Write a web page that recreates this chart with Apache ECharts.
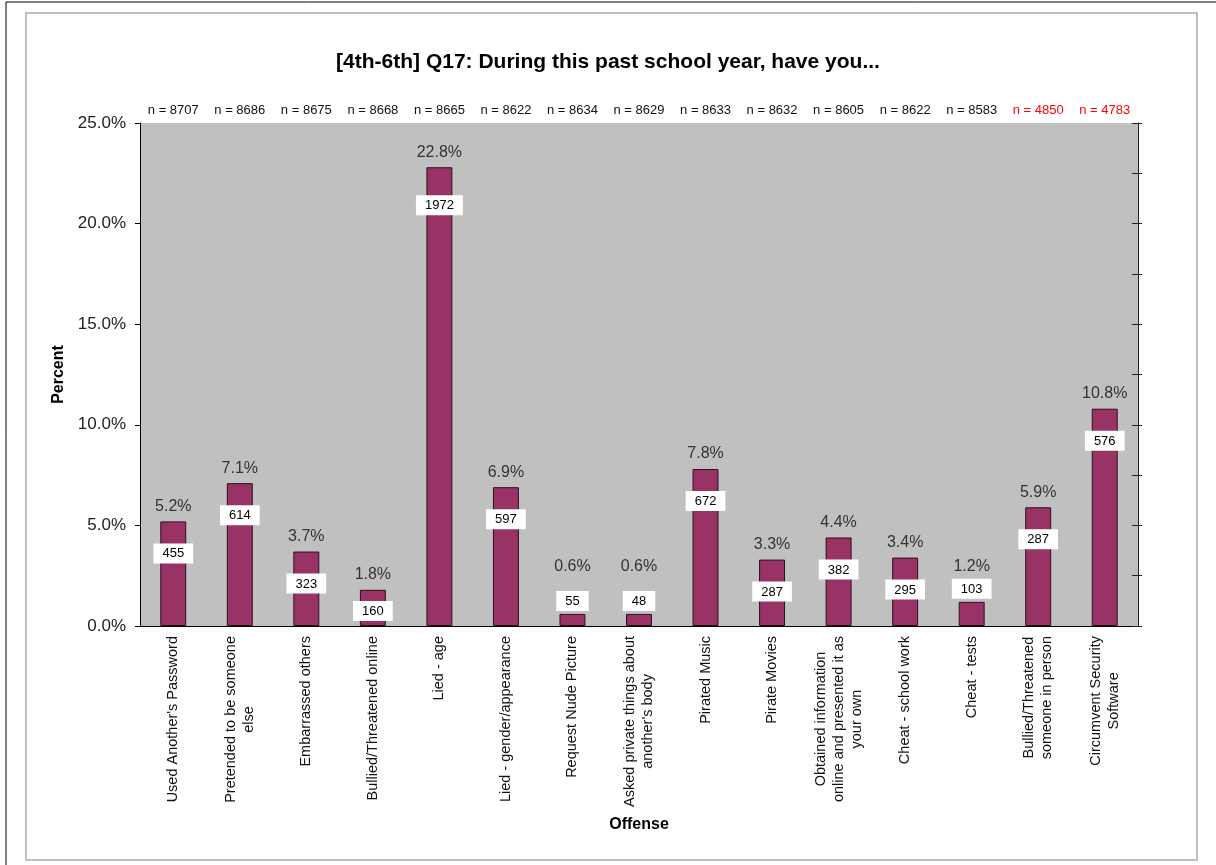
<!DOCTYPE html>
<html>
<head>
<meta charset="utf-8">
<script src="https://cdn.jsdelivr.net/npm/echarts@6/dist/echarts.min.js"></script>
<style>
  html, body { margin: 0; padding: 0; background: #fff; }
  #main { width: 1216px; height: 865px; }
</style>
</head>
<body>
<div id="main"></div>
<script>
// offenses, as printed under the bars
var categories = [
  "Used Another's Password",
  'Pretended to be someone\nelse',
  'Embarrassed others',
  'Bullied/Threatened online',
  'Lied - age',
  'Lied - gender/appearance',
  'Request Nude Picture',
  "Asked private things about\nanother's body",
  'Pirated Music',
  'Pirate Movies',
  'Obtained information\nonline and presented it as\nyour own',
  'Cheat - school work',
  'Cheat - tests',
  'Bullied/Threatened\nsomeone in person',
  'Circumvent Security\nSoftware'
]
var percents = [5.2, 7.1, 3.7, 1.8, 22.8, 6.9, 0.6, 0.6, 7.8, 3.3, 4.4, 3.4, 1.2, 5.9, 10.8]
var counts = [455, 614, 323, 160, 1972, 597, 55, 48, 672, 287, 382, 295, 103, 287, 576]
var sampleSizes = [8707, 8686, 8675, 8668, 8665, 8622, 8634, 8629, 8633, 8632, 8605, 8622, 8583, 4850, 4783]
var redSamples = [13, 14]   // the two smaller samples are shown in red
var yTicks = [0, 5, 10, 15, 20, 25]

var font = 'Arial, "Liberation Sans", sans-serif'
var gridTop = 123, gridBottom = 239
var pxPerUnit = (865 - gridTop - gridBottom) / yTicks[yTicks.length - 1]

var myChart = echarts.init(document.getElementById('main'))

// tiny bars: count box sits on top, so the % label goes above it
var pctData = percents.map(function (v) {
  var h = v * pxPerUnit
  return {
    value: v,
    label: { distance: h < 30 ? Math.max(8, 51 - h) : 7 }
  }
})

var countData = percents.map(function (v, i) {
  var h = v * pxPerUnit
  var lab
  if (h < 30) lab = { position: 'top', distance: 3 }
  else if (h < 50) lab = { position: 'insideTop', distance: Math.max(2, h - 25) }
  else lab = { position: 'insideTop', distance: h > 300 ? 28 : 22 }
  lab.formatter = String(counts[i])
  return { value: v, label: lab }
})

var nLabels = sampleSizes.map(function (n, i) {
  return {
    value: 'n = ' + n,
    textStyle: { color: redSamples.indexOf(i) >= 0 ? '#ff0000' : '#111' }
  }
})

myChart.setOption({
  animation: false,
  backgroundColor: '#fff',
  textStyle: { fontFamily: font },
  title: {
    text: '[4th-6th] Q17: During this past school year, have you...',
    left: 'center',
    top: 47,
    textStyle: { fontSize: 21, fontWeight: 'bold', color: '#000', fontFamily: font }
  },
  graphic: [
    { type: 'line', shape: { x1: 6, y1: 2, x2: 1216, y2: 2 }, style: { stroke: '#000', lineWidth: 1 } },
    { type: 'line', shape: { x1: 6, y1: 2, x2: 6, y2: 865 }, style: { stroke: '#000', lineWidth: 1 } },
    { type: 'rect', shape: { x: 26, y: 13, width: 1171, height: 847 }, style: { fill: 'none', stroke: '#c0c0c0', lineWidth: 2 } }
  ],
  grid: {
    left: 140, right: 78, top: gridTop, bottom: gridBottom,
    show: true, backgroundColor: '#c0c0c0', borderWidth: 0
  },
  xAxis: [{
    type: 'category',
    data: categories,
    name: 'Offense',
    nameLocation: 'middle',
    nameGap: 191,
    nameTextStyle: { fontSize: 16, fontWeight: 'bold', color: '#000' },
    axisLine: { lineStyle: { color: '#000', width: 1 } },
    axisTick: { inside: true, length: 4, lineStyle: { color: '#000' } },
    axisLabel: {
      interval: 0, rotate: 90, margin: 10,
      fontSize: 14.5, color: '#111', lineHeight: 18,
      formatter: function (v) {
        return v.split('\n').map(function (l) { return '{c|' + l + '}' }).join('\n')
      },
      rich: { c: { align: 'center', fontSize: 14.5, lineHeight: 18, color: '#111' } }
    }
  }, {
    type: 'category',
    position: 'top',
    data: nLabels,
    axisLine: { show: false },
    axisTick: { show: false },
    axisLabel: { interval: 0, margin: 6, fontSize: 13, color: '#111' }
  }],
  yAxis: [{
    type: 'value',
    min: 0, max: 25, interval: 5,
    name: 'Percent',
    nameLocation: 'middle',
    nameGap: 68,
    nameTextStyle: { fontSize: 16, fontWeight: 'bold', color: '#000' },
    axisLine: { show: true, lineStyle: { color: '#000' } },
    axisTick: { show: true, length: 5, lineStyle: { color: '#000' } },
    splitLine: { show: false },
    axisLabel: {
      margin: 14, fontSize: 17, color: '#222',
      formatter: function (v) { return v.toFixed(1) + '%' }
    }
  }, {
    type: 'value',
    position: 'right',
    min: 0, max: 25, interval: 2.5,
    axisLine: { show: true, lineStyle: { color: '#222' } },
    axisTick: { show: true, length: 4, lineStyle: { color: '#222' } },
    axisLabel: { show: false },
    splitLine: { show: false }
  }, {
    type: 'value',
    position: 'right',
    min: 0, max: 25, interval: 2.5,
    axisLine: { show: false },
    axisTick: { show: true, inside: true, length: 6, lineStyle: { color: '#222' } },
    axisLabel: { show: false },
    splitLine: { show: false }
  }],
  series: [{
    name: 'Percent',
    type: 'bar',
    data: pctData,
    barWidth: '39%',
    itemStyle: { color: '#993366', borderColor: '#2a1020', borderWidth: 1 },
    label: {
      show: true,
      position: 'top',
      fontSize: 16,
      color: '#333',
      formatter: function (p) { return p.value.toFixed(1) + '%' }
    }
  }, {
    name: 'Count',
    type: 'bar',
    data: countData,
    barWidth: '39%',
    barGap: '-100%',
    silent: true,
    z: 3,
    itemStyle: { color: 'rgba(0,0,0,0)', borderWidth: 0 },
    label: {
      show: true,
      fontSize: 13,
      color: '#000',
      backgroundColor: '#fff',
      padding: [4, 9, 3, 9]
    }
  }]
})
</script>
</body>
</html>
